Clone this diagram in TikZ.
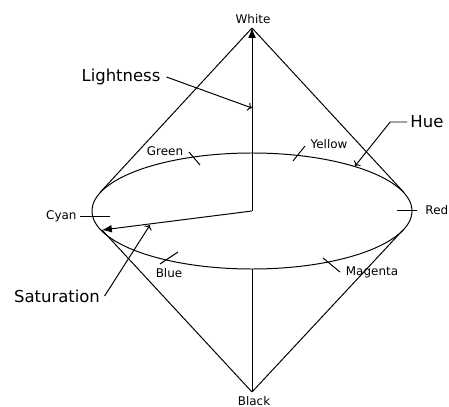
\documentclass[tikz,border=0pt]{standalone}
\usepackage{fontspec}
\setmainfont{DejaVu Sans}
\usetikzlibrary{arrows.meta}
\begin{document}
\begin{tikzpicture}[x=0.025cm,y=-0.025cm,line width=0.7pt,
  small/.style={font=\fontsize{8.5}{10}\selectfont,inner sep=0pt},
  big/.style={font=\fontsize{11.7}{14}\selectfont,inner sep=0pt},
  pointer/.style={-{To[length=3pt,width=6pt]}},
  solidtip/.style={-{Latex[length=7pt,width=5.5pt]}}]
  \useasboundingbox (0,0) rectangle (449,407);
  \coordinate (O) at (252,211);
  \coordinate (W) at (252,28);
  \coordinate (K) at (252,392);
  \coordinate (TL) at (100.5,192);
  \coordinate (TR) at (403.5,192);
  \coordinate (BL) at (102,230);
  \coordinate (BR) at (403,230);
  \coordinate (F) at (252,269);
  \coordinate (LT) at (252,108);
  \coordinate (HP) at (355,166);
  \coordinate (SP) at (150,225);
  \draw (O) ellipse (160 and 58);
  \draw (W) -- (TL) (W) -- (TR);
  \draw (K) -- (BL) (K) -- (BR);
  \draw[solidtip] (O) -- (W);
  \draw (F) -- (K);
  \draw[solidtip] (O) -- (BL);
  % labels
  \node[small] (white) at (253,19) {White};
  \node[small] (black) at (254,401) {Black};
  \node[small] (green) at (165,151) {Green};
  \node[small] (yellow) at (329,144) {Yellow};
  \node[small,anchor=west] (red) at (425,210) {Red};
  \node[small,anchor=east] (cyan) at (77,216) {Cyan};
  \node[small] (blue) at (169,273) {Blue};
  \node[small] (magenta) at (372,272) {Magenta};
  \node[big] (light) at (121,77) {Lightness};
  \node[big,anchor=west] (hue) at (410,122) {Hue};
  \node[big] (sat) at (57,296) {Saturation};
  % ticks on the rim
  \draw (189,152) -- (200,165);
  \draw (293,161) -- (305,146);
  \draw (397,210) -- (417,210);
  \draw (80,216) -- (110,216);
  \draw (160,264) -- (178,252);
  \draw (323,258) -- (340,272);
  % pointers
  \draw[pointer] ([xshift=4pt]light.east) -- (LT);
  \draw[pointer] ([xshift=-2pt]hue.west) -- ++(-17,0) -- (HP);
  \draw[pointer] ([xshift=3pt]sat.east) -- (SP);
\end{tikzpicture}
\end{document}
